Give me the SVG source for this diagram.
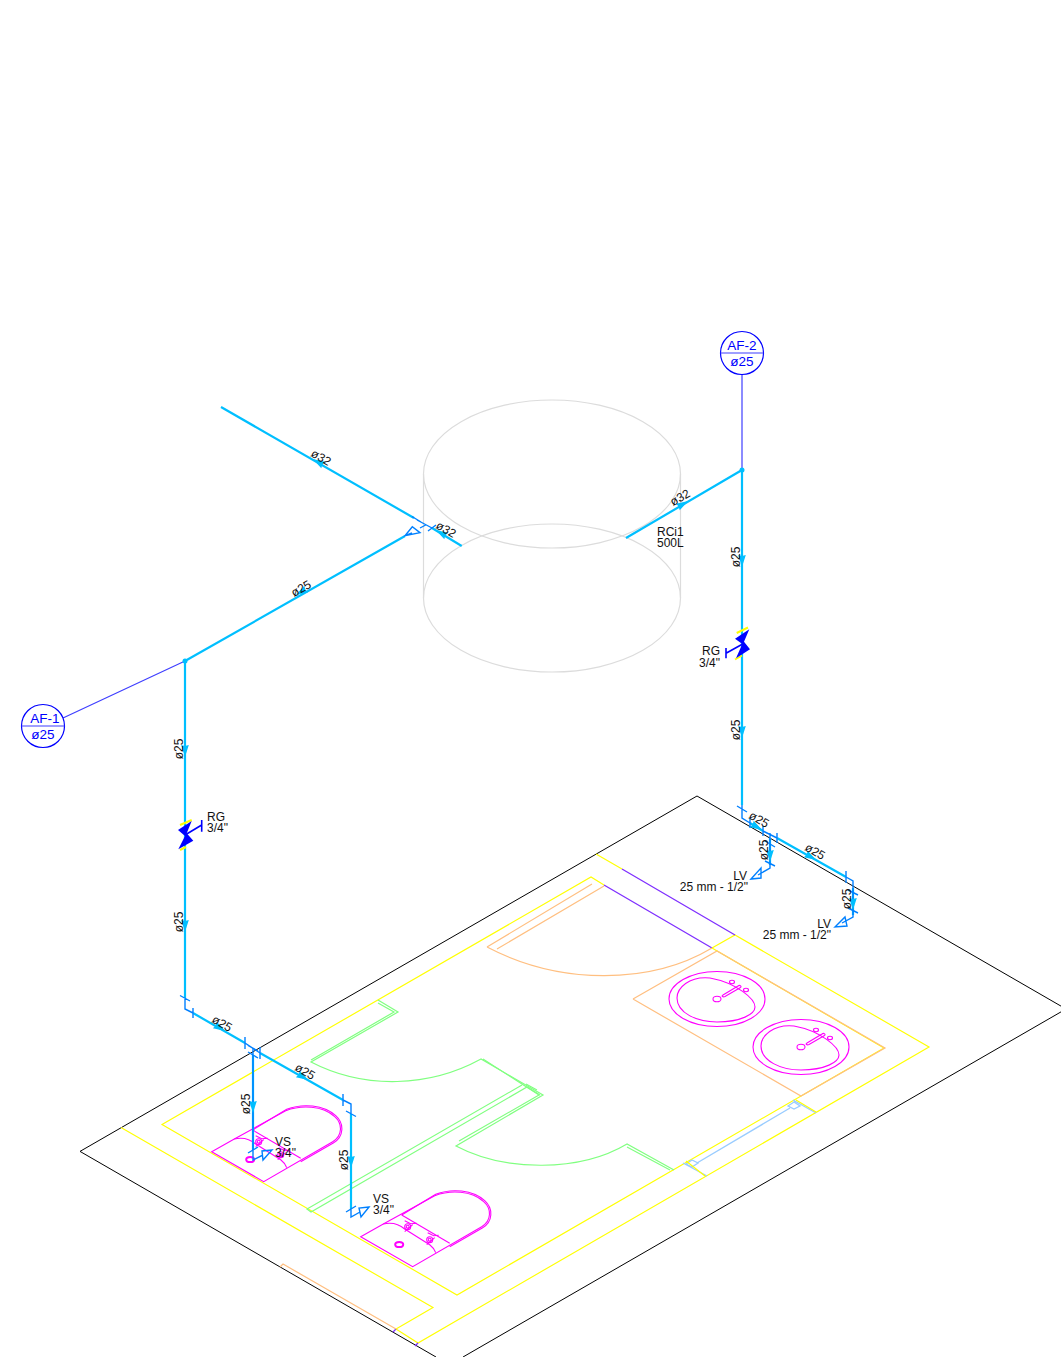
<svg xmlns="http://www.w3.org/2000/svg" width="1061" height="1357" viewBox="0 0 1061 1357">
<style>
.k{fill:none;stroke:#000;stroke-width:1}
.y{fill:none;stroke:#ffff00;stroke-width:1.150}
.g{fill:none;stroke:#80ff80;stroke-width:1.200}
.o{fill:none;stroke:#ffbf80;stroke-width:1.200}
.p{fill:none;stroke:#7f2fff;stroke-width:1.300}
.b{fill:none;stroke:#99ccff;stroke-width:1.300}
.m{fill:none;stroke:#ff00ff;stroke-width:1.100}
.t{fill:none;stroke:#dcdcdc;stroke-width:1.200}
.pipe{fill:none;stroke:#00bfff;stroke-width:2.200}
.thin{fill:none;stroke:#0080ff;stroke-width:1.400}
.lead{fill:none;stroke:#3f3fff;stroke-width:1.200}
.ar{fill:#00bfff}
.vb{fill:#0000ff}
.vy{fill:none;stroke:#ffff00;stroke-width:2}
.vh{fill:none;stroke:#0000ff;stroke-width:1.600}
text{font-family:"Liberation Sans",Arial,sans-serif;font-size:12px;fill:#111}
.c{text-anchor:middle}
.e{text-anchor:end}
.af{font-size:13.500px;fill:#0000ff;text-anchor:middle}
</style>
<defs>
<path id="arr" d="M6 0L-6 -3.800L-5 0L-6 3.800Z"/>
<g id="basin">
<ellipse cx="0" cy="0" rx="48" ry="27.500" class="m"/>
<path class="m" d="M-7-21C-28-23-40-11-40-1C-40 14-20 23 0 23C24 23 38 15 38 8C38 0 20-16-7-21Z"/>
<ellipse cx="0" cy="0" rx="4" ry="2.800" class="m"/>
<path class="m" d="M6-4L21-13C23-14.500 25-12.500 23.500-11.500L8-2.500C6-1.500 4-3 6-4Z"/>
<ellipse cx="15" cy="-17" rx="2.500" ry="1.700" class="m"/>
<ellipse cx="29" cy="-9" rx="2.500" ry="1.700" class="m"/>
</g>
<g id="washbasin">
<path class="m" d="M0 0L52 30L121 -10C131-16 131-28 123-35C111-46 90-47 74-41L22.600-12.700Z"/>
<path class="m" d="M41-21.700L75-42.500C91-48.500 112-47 124-36C133-28 132-15 122-9L89 10"/>
<path class="m" d="M41-21.700L89 6.600"/>
<path class="m" d="M22.600-12.700C32-15 39-12 44-7.700L69 8C73 11 74 13 75 16"/>
<ellipse cx="38.500" cy="7.800" rx="4" ry="2.600" fill="none" stroke="#ff00ff" stroke-width="2"/>
<g class="m">
<circle cx="47" cy="-10" r="3"/><circle cx="47" cy="-10" r="1.400"/>
<path class="m" d="M44-16L50-13L56-13.500M44-5L52-12"/>
<circle cx="69" cy="3" r="3"/><circle cx="69" cy="3" r="1.400"/>
<path class="m" d="M67-4L73-1L78-1.500M66 8L74 1"/>
</g>
</g>
</defs>

<g id="plan">
<path class="k" d="M697 796L1066 1009L463 1357M697 796L80 1151.400L436 1357"/>
<path class="y" d="M121 1127.500L433 1307.500L396 1329L418 1343L929 1047L735 935L712 948M596 854L622 869"/>
<path class="y" d="M604 885L591 877L162 1124.500L457 1295L884 1048L712 948"/>
<path class="p" d="M622 869L735 935M604 885L712 948M393 1332L396 1329M415 1346L418 1343"/>
<path class="o" d="M487 947L592 884M497 949L604 886M487 947C560 985 650 985 712 948"/>
<path class="o" d="M633 999L717 951L885 1048L801 1096L633 999"/>
<path class="o" d="M280 1267L283 1264L396 1329"/>
<path class="g" d="M378 1000L398 1012L311 1062C365 1090 430 1087 481 1059L543 1095L456 1146C505 1172 580 1172 627 1144L674 1170"/>
<path class="g" d="M378 1003L394 1012L311 1060M483 1059L539 1095L459 1141M627 1147L670 1170"/>
<path class="g" d="M522 1085L307 1209L311 1212L527 1087L540 1095M526 1084L537 1090"/>
<path class="b" d="M683 1163L707 1176M793 1100L816 1113M697 1163L790 1108M686 1164L692 1160L698 1163L692 1167ZM788 1106L794 1102L800 1106L794 1109Z"/>
<path class="y" d="M686 1161L705 1176M796 1100L816 1112"/>
</g>

<g id="tank">
<ellipse cx="552" cy="474" rx="128.500" ry="74" class="t"/>
<ellipse cx="552" cy="598" rx="128.500" ry="74" class="t"/>
<path class="t" d="M423.500 474V598M680.500 474V598"/>
<text x="657" y="536">RCi1</text>
<text x="657" y="547">500L</text>
</g>

<g id="basins">
<use href="#basin" x="717" y="999"/>
<use href="#basin" x="801" y="1047"/>
<use href="#washbasin" x="211.700" y="1151.700"/>
<use href="#washbasin" x="360.700" y="1236.700"/>
</g>

<g id="connectors">
<path class="lead" d="M742 375V470M63 718L185 661"/>
<path class="pipe" d="M221 407L414 518M432 528L461.700 546M185 661L405 536M626 538L742 470V805M185 661V998M193 1013L245 1043M260 1053L343 1100M351 1114V1209M253 1055V1150M750 823L763 831M777 838L846 877M770 838V865M853 888V915"/>
<path class="thin" d="M417 520L432 528M425.700 525L420 528M412 516.500L421 522M428 531L436 525"/>
<path class="thin" d="M405 535.700L412.300 526.700L420 532.700ZM412 533L405 535.700"/>
<path class="thin" d="M185 998V1009L193 1013M180 995.500L190 1001M193 1008V1018M245 1037V1049M245 1043L260 1053M248 1045.500L258 1051M260 1047V1059M343 1094V1106M343 1100L351 1104V1114M346 1111L356 1116.500"/>
<path class="thin" d="M351 1209V1217L360 1212M346 1212L356 1206M369 1207L359 1208L361 1217Z"/>
<path class="thin" d="M253 1048V1160L263 1155M248 1052L258 1058M248 1153L258 1147M272 1150L262 1151L263 1160Z"/>
<path class="thin" d="M742 805V818L750 823M737 806L747 812M750 818V828M763 826V836M763 831L777 838M770 833V868L758 875M777 833V843M765 841L775 847M765 861L775 866M751 879L761 868L761 878Z"/>
<path class="thin" d="M846 871V883M846 877L853 881V917L842 923M848 890L858 895M848 908L858 913M835 927L845 917L847 926Z"/>
<circle cx="742" cy="470" r="2.500" class="ar"/>
<circle cx="185" cy="661" r="2.500" class="ar"/>
<g class="ar">
<use href="#arr" transform="translate(318 462) rotate(210)"/>
<use href="#arr" transform="translate(441 533) rotate(210)"/>
<use href="#arr" transform="translate(301 592) rotate(150)"/>
<use href="#arr" transform="translate(683 504) rotate(-30)"/>
<use href="#arr" transform="translate(742 561) rotate(90)"/>
<use href="#arr" transform="translate(742 732) rotate(90)"/>
<use href="#arr" transform="translate(185 751) rotate(90)"/>
<use href="#arr" transform="translate(185 926) rotate(90)"/>
<use href="#arr" transform="translate(220 1028) rotate(30)"/>
<use href="#arr" transform="translate(303 1077) rotate(30)"/>
<use href="#arr" transform="translate(253 1107) rotate(90)"/>
<use href="#arr" transform="translate(351 1162) rotate(90)"/>
<use href="#arr" transform="translate(757 827) rotate(30)"/>
<use href="#arr" transform="translate(811 857) rotate(30)"/>
<use href="#arr" transform="translate(770 856) rotate(90)"/>
<use href="#arr" transform="translate(853 904) rotate(90)"/>
</g>
</g>

<g id="af-1">
<circle cx="43" cy="726" r="21.500" fill="#fff" stroke="#0000ff" stroke-width="1.200"/>
<path class="lead" d="M21.500 726H64.500"/>
<text x="45" y="723" class="af">AF-1</text>
<text x="43" y="739" class="af">ø25</text>
</g>
<g id="af-2">
<circle cx="742" cy="353" r="21.500" fill="#fff" stroke="#0000ff" stroke-width="1.200"/>
<path class="lead" d="M720.500 353H763.500"/>
<text x="742" y="350" class="af">AF-2</text>
<text x="742" y="366" class="af">ø25</text>
</g>

<g id="rg-left">
<path class="vy" d="M180 825L191.700 820M180 850L186 847"/>
<path class="vb" d="M191.700 821L178 830L185 836L178.300 849.300L193.300 840.700L186.700 833.300Z"/>
<path class="vh" d="M185 835L201.700 825M201.700 820V831.700"/>
<text x="207" y="821">RG</text>
<text x="207" y="832">3/4"</text>
</g>
<g id="rg-right">
<path class="vy" d="M736.700 633L748 627.500M735 659.500L742 655.500"/>
<path class="vb" d="M749.300 629.300L735 638.700L742.300 644L736 658.300L750 649.300L744 641.700Z"/>
<path class="vh" d="M742.700 644L726 653.300M726 648V658.300"/>
<text x="720" y="655" class="e">RG</text>
<text x="720" y="667" class="e">3/4"</text>
</g>

<g id="labels">
<text transform="translate(319 461) rotate(30)" class="c">ø32</text>
<text transform="translate(444 533) rotate(30)" class="c">ø32</text>
<text transform="translate(303 592) rotate(-30)" class="c">ø25</text>
<text transform="translate(682 501) rotate(-30)" class="c">ø32</text>
<text transform="translate(740 557) rotate(-90)" class="c">ø25</text>
<text transform="translate(740 730) rotate(-90)" class="c">ø25</text>
<text transform="translate(183 749) rotate(-90)" class="c">ø25</text>
<text transform="translate(183 922) rotate(-90)" class="c">ø25</text>
<text transform="translate(220 1027) rotate(30)" class="c">ø25</text>
<text transform="translate(303 1075) rotate(30)" class="c">ø25</text>
<text transform="translate(250 1104) rotate(-90)" class="c">ø25</text>
<text transform="translate(348 1160) rotate(-90)" class="c">ø25</text>
<text transform="translate(757 823) rotate(30)" class="c">ø25</text>
<text transform="translate(813 855) rotate(30)" class="c">ø25</text>
<text transform="translate(768 850) rotate(-90)" class="c">ø25</text>
<text transform="translate(851 899) rotate(-90)" class="c">ø25</text>
<text x="275" y="1146">VS</text>
<text x="275" y="1157">3/4"</text>
<text x="373" y="1203">VS</text>
<text x="373" y="1214">3/4"</text>
<text x="747" y="880" class="e">LV</text>
<text x="748" y="891" class="e">25 mm - 1/2"</text>
<text x="831" y="928" class="e">LV</text>
<text x="831" y="939" class="e">25 mm - 1/2"</text>
</g>
</svg>
